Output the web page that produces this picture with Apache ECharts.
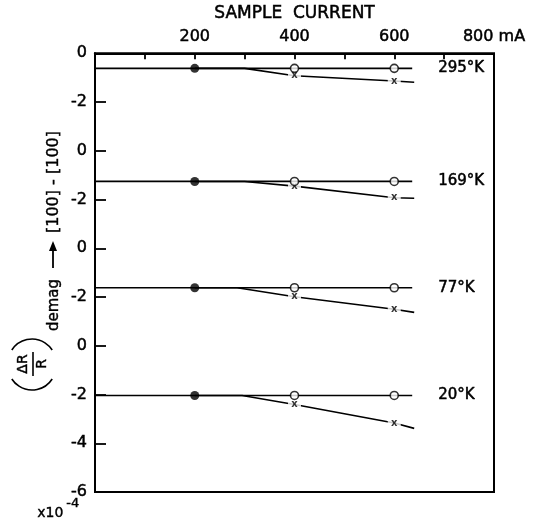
<!DOCTYPE html>
<html>
<head>
<meta charset="utf-8">
<script src="https://cdn.jsdelivr.net/npm/echarts@6/dist/echarts.min.js"></script>
<style>
  html, body { margin: 0; padding: 0; background: #fff; }
  #chart { width: 538px; height: 522px; }
</style>
</head>
<body>
<div id="chart"></div>
<script>
// Temperature panels, stacked top to bottom; each panel is shifted down by its offset
const temps = ['295°K', '169°K', '77°K', '20°K'];
const panelOffset = [0, -4, -8, -12];

// Sample current (mA) of the measured points
const filledCurrent = [200];
const openCurrent = [400, 600];
const crossCurrent = [400, 600];
const lineEndCurrent = 636;   // where the horizontal lines stop
const tailCurrent = 640;      // end of the short dash after the last cross
const branchCurrent = [300, 300, 285, 295]; // where the cross curve leaves the flat line

// (ΔR/R) values, ×10^-4
const flatLevel = [-0.62, -1.26, -1.62, -2.04];          // filled dot and open circles
const crossLevel = [[-0.92, -1.14], [-1.45, -1.93], [-1.99, -2.50], [-2.41, -3.17]];
const tailLevel = [-1.19, -1.95, -2.63, -3.39];

// Axis tick labels
const yTickLabels = ['0', '-2', '0', '-2', '0', '-2', '0', '-2', '-4', '-6'];
const xTickLabels = { 200: '200', 400: '400', 600: '600', 800: '800 mA' };

const FONT = 'DejaVu Sans';
const INK = '#000';
// slight outline so the lettering reads as heavy as pen lettering
const heavy = { textBorderColor: INK, textBorderWidth: 0.5 };

const series = [];
temps.forEach((t, i) => {
  const off = panelOffset[i];
  const f = flatLevel[i] + off;
  // horizontal line through the filled dot and open circles
  series.push({
    type: 'line',
    data: [[0, f], [200, f], [400, f], [600, f], [lineEndCurrent, f]],
    symbol: 'none',
    lineStyle: { color: INK, width: 1.7 },
    endLabel: Object.assign({
      show: true, formatter: t, distance: 26,
      color: INK, fontFamily: FONT, fontSize: 15
    }, heavy),
    z: 2
  });
  // curve through the crosses
  series.push({
    type: 'line',
    data: [[200, f], [branchCurrent[i], f],
           [crossCurrent[0], crossLevel[i][0] + off],
           [crossCurrent[1], crossLevel[i][1] + off],
           [tailCurrent, tailLevel[i] + off]],
    symbol: 'none',
    lineStyle: { color: INK, width: 1.6 },
    z: 2
  });
  // crosses, drawn with a small white break in the curve
  series.push({
    type: 'scatter',
    data: crossCurrent.map((c, k) => [c, crossLevel[i][k] + off]),
    symbol: 'rect',
    symbolSize: [13, 6],
    itemStyle: { color: '#fff' },
    label: {
      show: true, position: 'inside', formatter: 'x',
      color: INK, fontFamily: FONT, fontSize: 10, fontWeight: 'bold'
    },
    z: 3
  });
  // filled dot
  series.push({
    type: 'scatter',
    data: filledCurrent.map(c => [c, f]),
    symbol: 'circle', symbolSize: 9,
    itemStyle: { color: INK },
    z: 4
  });
  // open circles
  series.push({
    type: 'scatter',
    data: openCurrent.map(c => [c, f]),
    symbol: 'circle', symbolSize: 8,
    itemStyle: { color: '#fff', borderColor: INK, borderWidth: 1.6 },
    z: 4
  });
});

const chart = echarts.init(document.getElementById('chart'), null, { renderer: 'canvas' });
chart.setOption({
  animation: false,
  backgroundColor: '#fff',
  grid: {
    left: 95, right: 44, top: 48, bottom: 30,
    show: true, borderColor: INK, borderWidth: 2, backgroundColor: 'transparent'
  },
  xAxis: {
    type: 'value', position: 'top',
    min: 0, max: 800, interval: 100,
    name: 'SAMPLE  CURRENT', nameLocation: 'middle', nameGap: 31,
    nameTextStyle: Object.assign({ color: INK, fontFamily: FONT, fontSize: 17 }, heavy),
    axisLine: { show: true, lineStyle: { color: INK, width: 2 } },
    axisTick: { show: true, inside: true, length: 6, lineStyle: { color: INK, width: 1.8 } },
    axisLabel: Object.assign({
      color: INK, fontFamily: FONT, fontSize: 16, margin: 8,
      formatter: v => xTickLabels[v] || ''
    }, heavy),
    splitLine: { show: false }
  },
  yAxis: {
    type: 'value',
    min: -18, max: 0, interval: 2,
    axisLine: { show: true, lineStyle: { color: INK, width: 2 } },
    axisTick: { show: true, inside: true, length: 11, lineStyle: { color: INK, width: 1.8 } },
    axisLabel: Object.assign({
      color: INK, fontFamily: FONT, fontSize: 16, margin: 8,
      formatter: v => yTickLabels[Math.round(-v / 2)]
    }, heavy),
    splitLine: { show: false }
  },
  graphic: [
    {
      // rotated y-axis title: (ΔR/R)demag → [100] - [100]
      type: 'group', x: 32, y: 393, rotation: Math.PI / 2,
      children: [
        { type: 'arc', shape: { cx: 27, cy: 0, r: 24, startAngle: Math.PI - 1.0, endAngle: Math.PI + 1.0, clockwise: true },
          style: { stroke: INK, lineWidth: 1.6, fill: 'none' } },
        { type: 'text', x: 29, y: -9,
          style: { text: 'ΔR', fontFamily: FONT, fontSize: 14, fill: INK, stroke: INK, lineWidth: 0.4,
                   textAlign: 'center', textVerticalAlign: 'middle' } },
        { type: 'line', shape: { x1: 17, y1: 1, x2: 41, y2: 1 },
          style: { stroke: INK, lineWidth: 1.6 } },
        { type: 'text', x: 29, y: 10,
          style: { text: 'R', fontFamily: FONT, fontSize: 14, fill: INK, stroke: INK, lineWidth: 0.4,
                   textAlign: 'center', textVerticalAlign: 'middle' } },
        { type: 'arc', shape: { cx: 30, cy: 0, r: 24, startAngle: -1.0, endAngle: 1.0, clockwise: true },
          style: { stroke: INK, lineWidth: 1.6, fill: 'none' } },
        { type: 'text', x: 62, y: 22,
          style: { text: 'demag', fontFamily: FONT, fontSize: 15, fill: INK, stroke: INK, lineWidth: 0.4,
                   textAlign: 'left', textVerticalAlign: 'middle' } },
        { type: 'line', shape: { x1: 125, y1: 21, x2: 146, y2: 21 },
          style: { stroke: INK, lineWidth: 1.8 } },
        { type: 'polygon', shape: { points: [[152, 21], [142, 17], [142, 25]] },
          style: { fill: INK } },
        { type: 'text', x: 160, y: 22,
          style: { text: '[100] - [100]', fontFamily: FONT, fontSize: 16, fill: INK, stroke: INK, lineWidth: 0.4,
                   textAlign: 'left', textVerticalAlign: 'middle' } }
      ]
    },
    {
      type: 'text', left: 37, top: 506,
      style: { text: 'x10', fontFamily: FONT, fontSize: 14, fill: INK, stroke: INK, lineWidth: 0.4 }
    },
    {
      type: 'text', left: 66, top: 497,
      style: { text: '-4', fontFamily: FONT, fontSize: 13, fill: INK, stroke: INK, lineWidth: 0.4 }
    }
  ],
  series: series
});
</script>
</body>
</html>
